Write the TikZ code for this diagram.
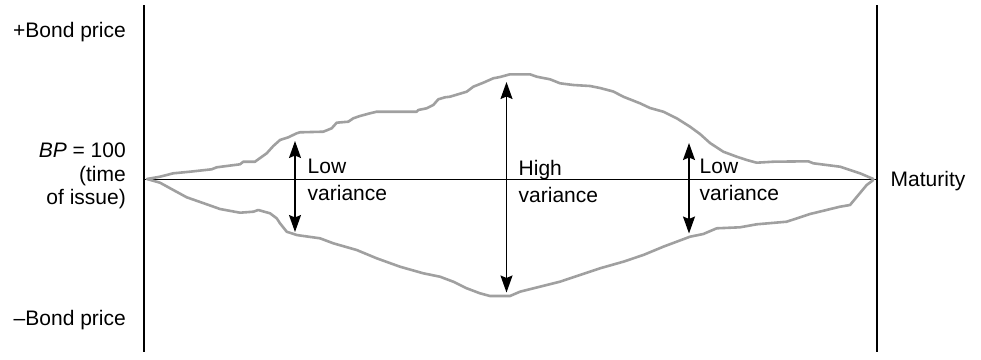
\documentclass[tikz,border=0pt]{standalone}
\usepackage{fontspec}
\setmainfont{Liberation Sans}
\usetikzlibrary{arrows.meta}
\definecolor{pathgray}{RGB}{160,160,160}
\begin{document}
\begin{tikzpicture}[x=1pt,y=-1pt,
  font=\fontsize{21}{24}\selectfont,
  axisline/.style={line width=1.1pt, black},
  pricepath/.style={line width=2.6pt, draw=pathgray, line join=round, line cap=round},
  vararrow/.style={line width=1.6pt, black,
    {Stealth[length=17pt,width=12pt,inset=2.5pt]}-{Stealth[length=17pt,width=12pt,inset=2.5pt]}},
  ylabel/.style={inner sep=0pt, anchor=base east},
  varlabel/.style={inner sep=0pt, anchor=north west, align=left, font=\fontsize{21}{27}\selectfont}]
\useasboundingbox (0,0) rectangle (981,359);

% axes
\coordinate (ltop) at (144,5);
\coordinate (lbot) at (144,352);
\coordinate (rtop) at (877,5);
\coordinate (rbot) at (877,352);
\coordinate (hl) at (144,179.5);
\coordinate (hr) at (877,179.5);
\draw[axisline] (ltop) -- (lbot);
\draw[axisline] (rtop) -- (rbot);
\draw[axisline] (hl) -- (hr);

% price paths
\draw[pricepath] (147,179) -- (160,176.7) -- (173.3,173.3) -- (190,171.7) -- (211.7,169.3) -- (216.7,167.3) -- (240,164.3) -- (243.3,161.7) -- (255,161.7) -- (258.3,159.3) -- (266.7,153.3) -- (273.3,146) -- (280,140) -- (288.3,137.3) -- (296.7,133.3) -- (300,132.3) -- (323.3,131.7) -- (331.7,128.3) -- (336.7,122.7) -- (348.3,121.7) -- (353.3,118.3) -- (360,116) -- (370,113.3) -- (376.7,111.7) -- (416.7,111.7) -- (418.3,110) -- (426.7,108.3) -- (433.3,105) -- (438.3,99.3) -- (445,97.3) -- (450,96.7) -- (463.3,92.7) -- (466.7,91.7) -- (473.3,86.7) -- (483.3,82.7) -- (493.3,78.3) -- (500,77) -- (510,74.3) -- (530,74.3) -- (536.7,76.7) -- (550,79.3) -- (560,83.3) -- (573.3,85) -- (590,86) -- (600,88) -- (613.3,91.5) -- (623.3,96.7) -- (640,103.3) -- (650,108) -- (663.3,111.7) -- (676.7,118.3) -- (690,126.7) -- (700,134) -- (710,143) -- (723.3,151.7) -- (736.7,156.7) -- (746.7,160) -- (756.7,162.7) -- (773.3,161.7) -- (808.3,161.3) -- (813.3,163.3) -- (840,166.7) -- (850,170) -- (860,173.3) -- (873.3,179);
\draw[pricepath] (147,179) -- (160,182.7) -- (173.3,190) -- (186.7,197.3) -- (206.7,204.3) -- (220,209) -- (240,212.7) -- (253.3,211.7) -- (258.3,210) -- (270,213.3) -- (276.7,218.3) -- (280,223.3) -- (286.7,231.7) -- (296.7,235) -- (300,235.5) -- (320,238.3) -- (333.3,243.3) -- (356.7,250) -- (376.7,258.3) -- (400,266.7) -- (423.3,273.3) -- (440,276.7) -- (453.3,281.7) -- (466.7,288.3) -- (480,293.3) -- (490,296) -- (510,296) -- (520,291.7) -- (540,286.7) -- (560,281.7) -- (580,275) -- (600,268.3) -- (623.3,261.7) -- (643.3,255) -- (663.3,246.7) -- (690,236.7) -- (703.3,234) -- (716.7,228.3) -- (740,227.3) -- (756.7,224.3) -- (786.7,221.7) -- (810,214) -- (840,206.7) -- (850,205) -- (866.7,185) -- (873.3,180);

% variance arrows
\coordinate (a1t) at (295,141);
\coordinate (a1b) at (295,232);
\coordinate (a2t) at (506.5,82);
\coordinate (a2b) at (506.5,292.5);
\coordinate (a3t) at (689,143);
\coordinate (a3b) at (689,233.5);
\draw[vararrow] (a1t) -- (a1b);
\draw[vararrow] (a2t) -- (a2b);
\draw[vararrow] (a3t) -- (a3b);

% labels
\node[ylabel] (plus) at (126,37.5) {+Bond price};
\node[ylabel] (minus) at (126,325.5) {–Bond price};
\node[inner sep=0pt, anchor=north east, align=right, font=\fontsize{21}{23.5}\selectfont] (bp) at (126,143) {\textit{BP} = 100\\(time\\of issue)};
\node[varlabel] (low1) at (307.5,158.5) {Low\\variance};
\node[varlabel] (high) at (518.5,160) {High\\variance};
\node[varlabel] (low2) at (699.5,158.5) {Low\\variance};
\node[inner sep=0pt, anchor=base west] (mat) at (890.5,186) {Maturity};
\end{tikzpicture}
\end{document}
